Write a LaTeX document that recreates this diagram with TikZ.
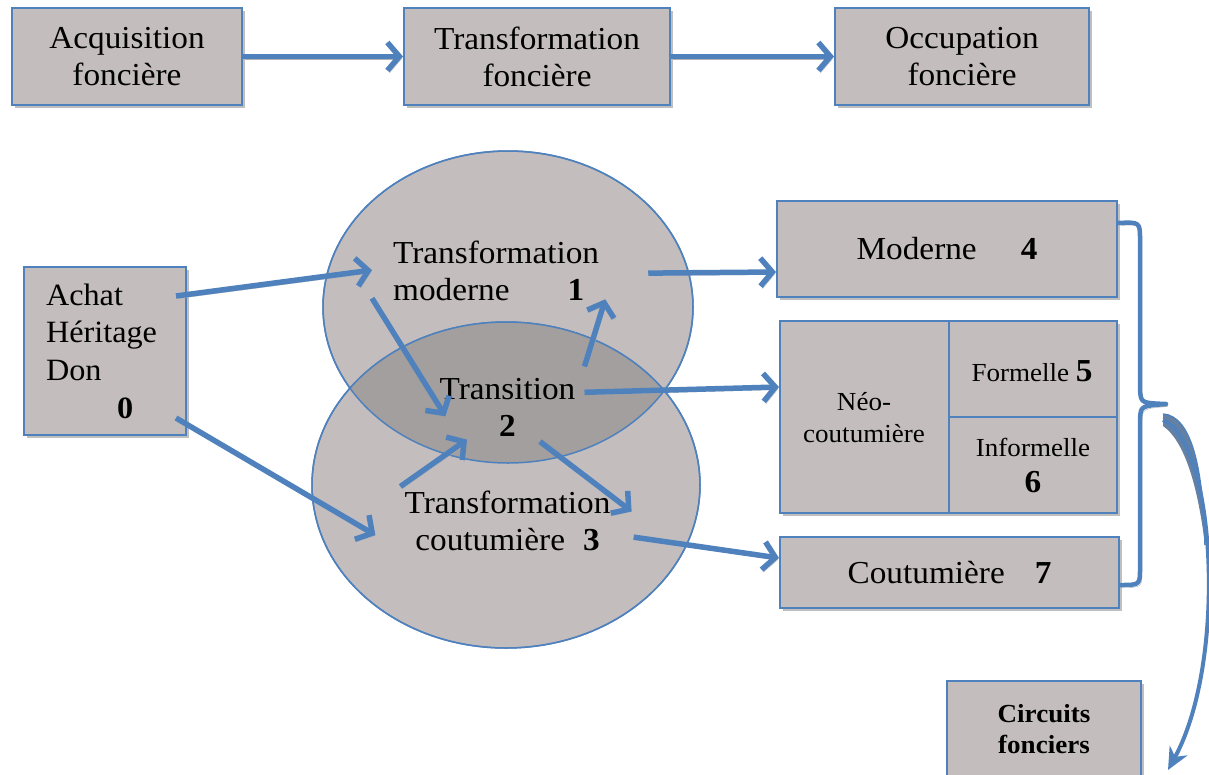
\documentclass[tikz,border=0pt]{standalone}
\usepackage{fontspec}
\setmainfont[FakeStretch=1.04]{Liberation Serif}
\usetikzlibrary{arrows.meta,shapes.geometric,shadows,calc}
\definecolor{obl}{HTML}{4F81BD}
\definecolor{boxg}{HTML}{C3BDBD}
\definecolor{darkg}{HTML}{A29F9E}
\begin{document}
\begin{tikzpicture}[x=1pt,y=-1pt,
  box/.style={draw=obl, line width=2pt, fill=boxg, inner sep=0pt, align=center,
    drop shadow={shadow xshift=3pt, shadow yshift=-3pt, fill=black, opacity=0.25}},
  big/.style={font=\fontsize{32}{37}\selectfont},
  small/.style={font=\fontsize{26}{32}\selectfont},
  txt/.style={inner sep=0pt},
  arr/.style={draw=obl, line width=5.5pt, -{Straight Barb[length=12pt,width=28pt]},
    preaction={draw=black!30, transform canvas={shift={(2pt,-2.5pt)}}}},
  ell/.style={draw=obl, line width=1.5pt, fill=boxg, ellipse, inner sep=0pt}
]
\useasboundingbox (0,0) rectangle (1209,774);

% top row
\node[box, big, minimum width=230pt, minimum height=97pt] (acq) at (127,56.5) {Acquisition\\foncière};
\node[box, big, minimum width=266pt, minimum height=97pt] (tra) at (537,56.5) {Transformation\\foncière};
\node[box, big, minimum width=254pt, minimum height=97pt] (occ) at (962,56.5) {Occupation\\foncière};
\draw[arr] (acq.east) -- (tra.west);
\draw[arr] (tra.east) -- (occ.west);

% ellipses
\node[ell, minimum width=370pt, minimum height=312pt] (e1) at (508,307) {};
\node[ell, minimum width=388pt, minimum height=326pt] (e2) at (506,485) {};
\begin{scope}
  \clip (508,307) ellipse [x radius=185, y radius=156];
  \fill[darkg] (506,485) ellipse [x radius=194, y radius=163];
\end{scope}
\draw[obl, line width=1.5pt] (e1.center) ellipse [x radius=185, y radius=156];
\draw[obl, line width=1.5pt] (e2.center) ellipse [x radius=194, y radius=163];

% left box
\node[box, minimum width=162pt, minimum height=168pt, text width=118pt, align=left, font=\fontsize{31}{37.7}\selectfont]
  (ach) at (105,351) {Achat\\Héritage\\Don\\\hspace*{71pt}\textbf{0}};

% ellipse texts
\node[txt, big, align=left, anchor=north west] (t1) at (393,241)
  {Transformation\\moderne\hspace*{58pt}\textbf{1}};
\node[txt, big, align=center, anchor=north] (t2) at (507.5,378)
  {Transition\\\textbf{2}};
\node[txt, big, align=center, anchor=north] (t3) at (507.5,491)
  {Transformation\\coutumière\hspace*{18pt}\textbf{3}};

% right boxes
\node[box, big, minimum width=340pt, minimum height=96pt] (mod) at (947,249)
  {Moderne\hspace*{44pt}\textbf{4}};
\node[box, minimum width=337pt, minimum height=192pt] (neo) at (948.5,417) {};
\draw[obl, line width=2pt] (neo.north) -- (neo.south);
\draw[obl, line width=2pt] (neo.center) -- (neo.east);
\node[txt, small, align=center, anchor=north] (neot) at (864,392) {Néo-\\coutumière};
\node[txt, anchor=base] (fo) at (1032,381) {\fontsize{26}{30}\selectfont Formelle \fontsize{32}{30}\selectfont\textbf{5}};
\node[txt, anchor=base] (inf) at (1033,456) {\fontsize{26}{30}\selectfont Informelle};
\node[txt, anchor=base] (six) at (1033,492) {\fontsize{32}{30}\selectfont\textbf{6}};
\node[box, big, minimum width=339pt, minimum height=71pt] (cou) at (949.5,572.5)
  {Coutumière\hspace*{30pt}\textbf{7}};

% bottom right box
\node[box, minimum width=194pt, minimum height=110pt, anchor=north] (cir) at (1044,680) {};
\node[txt, align=center, anchor=north, font=\fontsize{26}{31}\selectfont\bfseries] (cirt) at (1044,704) {Circuits\\fonciers};

% arrows
\draw[arr] ($(ach.east)+(-11,-55)$) -- ($(t1.west)+(-21,-1)$);
\draw[arr] ($(ach.east)+(-11,67)$) -- ($(t3.west)+(-29,14)$);
\draw[arr] ($(t1.south west)+(-21,-3)$) -- ($(t2.west)+(6,9)$);
\draw[arr] ($(t3.north west)+(-4,-4.5)$) -- ($(t2.south)+(-40.5,3)$);
\draw[arr] ($(t2.north east)+(9,-11.5)$) -- ($(t1.south east)+(6,-2)$);
\draw[arr] ($(t2.south)+(32.5,5)$) -- ($(t3.north east)+(21,20.5)$);
\draw[arr] ($(t1.east)+(49,2)$) -- ($(mod.west)+(0,23)$);
\draw[arr] ($(t2.east)+(9,-15)$) -- ($(neo.west)+(0,-30)$);
\draw[arr] ($(t3.east)+(23,16)$) -- ($(cou.west)+(0,-14.5)$);

% brace
\draw[draw=obl, line width=4.5pt, line join=round,
  preaction={draw=black!30, transform canvas={shift={(2pt,-2.5pt)}}}]
  ($(mod.east)+(0,-26)$) .. controls (1140,222) .. (1140,240) -- (1140,390)
  .. controls (1141,403) .. (1166,404) .. controls (1141,406) .. (1140,418)
  -- (1140,568) .. controls (1140,585) .. ($(cou.east)+(0,12.5)$);

% curved arrow
\coordinate (cs) at (1163,414);
\coordinate (ce) at (1168,770);
\fill[obl!55!gray] (cs) .. controls (1192,416) and (1203,470) .. (1205,545)
  .. controls (1197,480) and (1183,440) .. (1163,426) -- cycle;
\draw[obl, line width=1.5pt] (cs) .. controls (1192,416) and (1203,470) .. (1205,545);
\draw[obl, line width=4pt, -{Stealth[length=22pt,width=20pt,inset=7pt]}]
  (1163,420) .. controls (1215,440) and (1228,660) .. (ce);
\end{tikzpicture}
\end{document}
